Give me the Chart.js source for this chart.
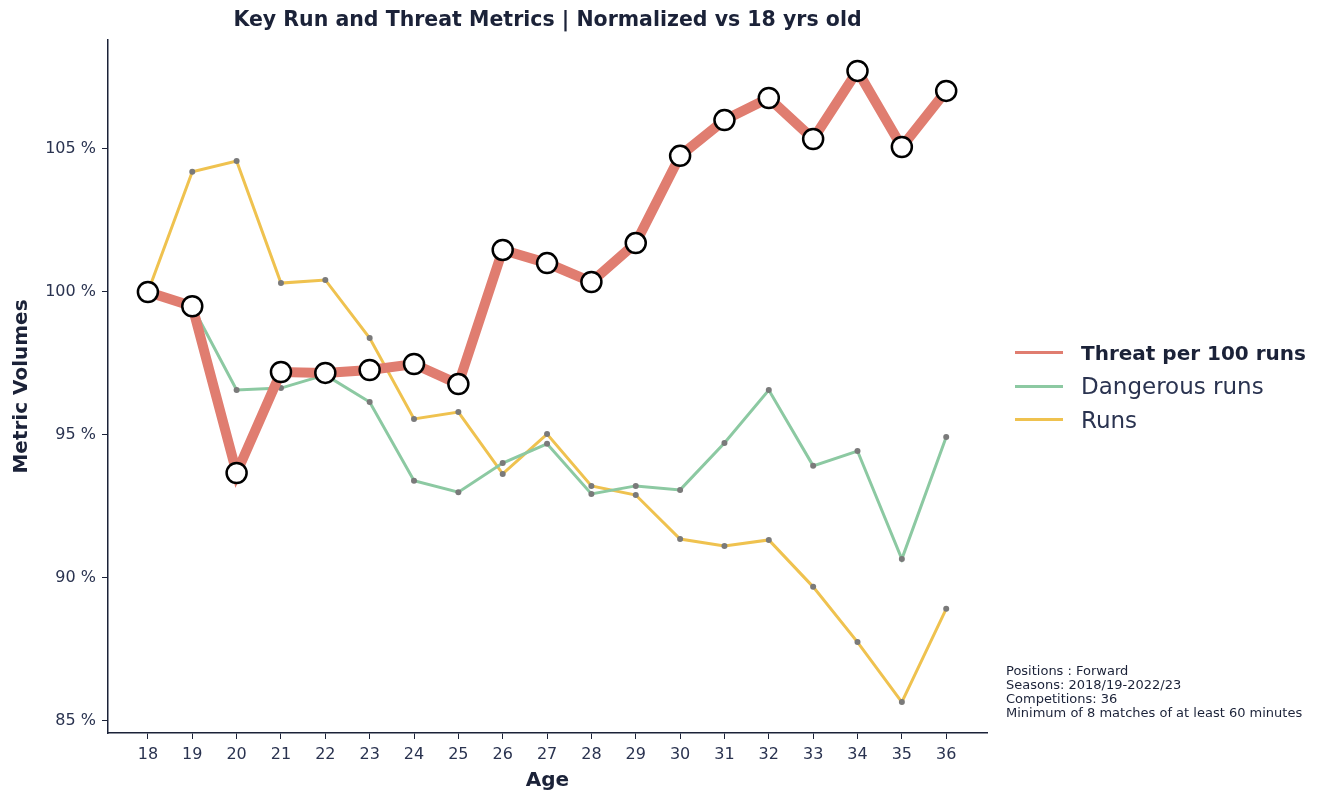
<!DOCTYPE html>
<html>
<head>
<meta charset="utf-8">
<script src="https://cdn.jsdelivr.net/npm/chart.js@4/dist/chart.umd.min.js"></script>
<style>
  body { margin: 0; background: #fff; font-family: "DejaVu Sans", sans-serif; color: #1b2238; }
  #wrap { position: relative; width: 1334px; height: 793px; }
  #title { position: absolute; left: 108px; width: 879px; top: 7px; text-align: center; font-size: 20.5px; font-weight: 600; color: #1b2238; }
  #legend { position: absolute; left: 1015px; top: 336px; }
  .item { height: 33.5px; display: flex; align-items: center; font-size: 23px; color: #2a3350; }
  .item span.sw { display: inline-block; width: 48px; height: 3px; margin-right: 18px; }
  .item.b { font-weight: 700; font-size: 20px; color: #1b2238; }
  #note { position: absolute; left: 1006px; top: 664px; font-size: 13px; line-height: 14px; color: #1b2238; }
</style>
</head>
<body>
<div id="wrap">
  <canvas id="chart01" width="1334" height="793"></canvas>
  <div id="title">Key Run and Threat Metrics | Normalized vs 18 yrs old</div>
  <div id="legend"></div>
  <div id="note">Positions : Forward<br>Seasons: 2018/19-2022/23<br>Competitions: 36<br>Minimum of 8 matches of at least 60 minutes</div>
</div>
<script>
var ages = [18, 19, 20, 21, 22, 23, 24, 25, 26, 27, 28, 29, 30, 31, 32, 33, 34, 35, 36];
var threat = [100, 99.5, 93.67, 97.2, 97.17, 97.27, 97.48, 96.78, 101.47, 101.01, 100.35, 101.71, 104.76, 106.01, 106.78, 105.35, 107.73, 105.07, 107.03];
var dangerous = [100, 99.5, 96.57, 96.64, 97.1, 96.15, 93.4, 93.0, 94.02, 94.69, 92.94, 93.22, 93.08, 94.72, 96.57, 93.92, 94.44, 90.66, 94.93];
var runs = [100, 104.2, 104.58, 100.31, 100.42, 98.39, 95.56, 95.8, 93.64, 95.03, 93.22, 92.9, 91.36, 91.12, 91.33, 89.69, 87.76, 85.66, 88.92];
var yTicks = [85, 90, 95, 100, 105];

var colors = { threat: "#e07d70", dangerous: "#8cc9a2", runs: "#efc24f" };
var axisColor = "#1b2238";
var textColor = "#2a3350";

function pts(vals) {
  var temp = [];
  for (var i = 0; i < ages.length; i++) {
    temp.push({ x: ages[i], y: vals[i] });
  }
  return temp;
}

var ctx = document.getElementById('chart01').getContext('2d');
var myChart = new Chart(ctx, {
  type: 'line',
  data: {
    datasets: [{
      label: 'Threat per 100 runs',
      data: pts(threat),
      borderColor: colors.threat,
      borderWidth: 10,
      pointRadius: 10,
      pointBackgroundColor: "#ffffff",
      pointBorderColor: "#000000",
      pointBorderWidth: 2.5
    }, {
      label: 'Dangerous runs',
      data: pts(dangerous),
      borderColor: colors.dangerous,
      borderWidth: 3,
      pointRadius: 3,
      pointBackgroundColor: "#7a7a7a",
      pointBorderWidth: 0
    }, {
      label: 'Runs',
      data: pts(runs),
      borderColor: colors.runs,
      borderWidth: 3,
      pointRadius: 3,
      pointBackgroundColor: "#7a7a7a",
      pointBorderWidth: 0
    }]
  },
  options: {
    responsive: false,
    animation: false,
    layout: { padding: { top: 40, right: 347, left: 0, bottom: 0 } },
    plugins: { legend: { display: false }, tooltip: { enabled: false } },
    elements: { line: { tension: 0 } },
    scales: {
      x: {
        type: 'linear',
        min: 17.1,
        max: 36.92,
        afterFit: function (s) { s.height = 60; },
        border: { color: axisColor, width: 1.5 },
        grid: { drawOnChartArea: false, drawTicks: true, tickLength: 6, tickColor: axisColor },
        ticks: { stepSize: 1, includeBounds: false, color: textColor, padding: 6, font: { family: "DejaVu Sans", size: 16 } },
        title: { display: true, text: 'Age', color: axisColor, padding: { top: 2, bottom: 0 }, font: { family: "DejaVu Sans", size: 20, weight: 'bold' } }
      },
      y: {
        min: 84.58,
        max: 108.81,
        afterFit: function (s) { s.width = 108; },
        afterBuildTicks: function (s) { s.ticks = yTicks.map(function (v) { return { value: v }; }); },
        border: { color: axisColor, width: 1.5 },
        grid: { drawOnChartArea: false, drawTicks: true, tickLength: 6, tickColor: axisColor },
        ticks: { color: textColor, padding: 6, font: { family: "DejaVu Sans", size: 16 }, callback: function (v) { return v + ' %'; } },
        title: { display: true, text: 'Metric Volumes', color: axisColor, padding: { top: 10, bottom: 0 }, font: { family: "DejaVu Sans", size: 20, weight: 'bold' } }
      }
    }
  }
});

var html = "";
var ds = myChart.data.datasets;
for (var i = 0; i < ds.length; i++) {
  html += '<div class="item' + (i == 0 ? ' b' : '') + '"><span class="sw" style="background:' + ds[i].borderColor + '"></span>' + ds[i].label + '</div>';
}
document.getElementById('legend').innerHTML = html;
</script>
</body>
</html>
